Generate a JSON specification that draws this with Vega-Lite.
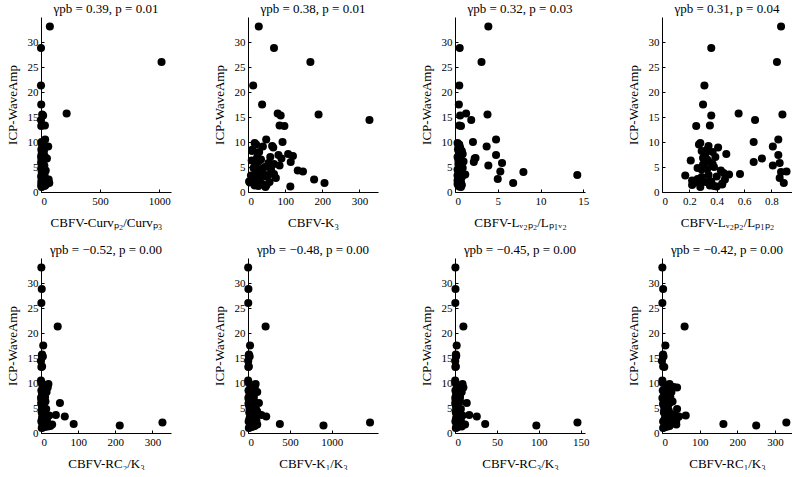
{
  "$schema": "https://vega.github.io/schema/vega-lite/v6.json",
  "padding": {"left": 6, "top": 3, "right": 0, "bottom": 0},
  "background": "white",
  "data": {"values": [
    {"icp": 33.1, "curv": 75, "k3": 29, "lvp": 3.9, "lpp": 0.87, "rc2": 1, "k1": 2, "rc3": 0.5, "rc1": 1},
    {"icp": 28.8, "curv": 0, "k3": 70, "lvp": 0.55, "lpp": 0.36, "rc2": 2, "k1": 5, "rc3": 0.6, "rc1": 3},
    {"icp": 26.0, "curv": 1020, "k3": 168, "lvp": 3.1, "lpp": 0.84, "rc2": 1, "k1": 3, "rc3": 0.4, "rc1": 1},
    {"icp": 21.3, "curv": 0, "k3": 14, "lvp": 0.5, "lpp": 0.31, "rc2": 45, "k1": 210, "rc3": 10, "rc1": 60},
    {"icp": 17.5, "curv": 2, "k3": 38, "lvp": 0.45, "lpp": 0.30, "rc2": 6, "k1": 24, "rc3": 2, "rc1": 9},
    {"icp": 15.7, "curv": 217, "k3": 80, "lvp": 1.3, "lpp": 0.56, "rc2": 3, "k1": 12, "rc3": 1, "rc1": 3},
    {"icp": 15.5, "curv": 10, "k3": 190, "lvp": 3.8, "lpp": 0.88, "rc2": 2, "k1": 8, "rc3": 1.5, "rc1": 2},
    {"icp": 15.3, "curv": 18, "k3": 88, "lvp": 0.6, "lpp": 0.36, "rc2": 5, "k1": 20, "rc3": 1.2, "rc1": 4},
    {"icp": 14.4, "curv": 0, "k3": 327, "lvp": 1.9, "lpp": 0.68, "rc2": 0, "k1": 3, "rc3": 0.3, "rc1": 0},
    {"icp": 13.3, "curv": 33, "k3": 85, "lvp": 0.5, "lpp": 0.35, "rc2": 3, "k1": 10, "rc3": 1, "rc1": 3},
    {"icp": 13.2, "curv": 2, "k3": 98, "lvp": 0.7, "lpp": 0.25, "rc2": 1, "k1": 4, "rc3": 0.5, "rc1": 6},
    {"icp": 10.5, "curv": 35, "k3": 49, "lvp": 4.8, "lpp": 0.85, "rc2": 0, "k1": 2, "rc3": 0.2, "rc1": 1},
    {"icp": 10.0, "curv": 5, "k3": 93, "lvp": 2.1, "lpp": 0.67, "rc2": 2, "k1": 10, "rc3": 0.8, "rc1": 2},
    {"icp": 9.8, "curv": 15, "k3": 18, "lvp": 0.3, "lpp": 0.28, "rc2": 20, "k1": 91, "rc3": 9, "rc1": 20},
    {"icp": 9.5, "curv": 8, "k3": 22, "lvp": 0.5, "lpp": 0.27, "rc2": 4, "k1": 30, "rc3": 2, "rc1": 10},
    {"icp": 9.2, "curv": 20, "k3": 65, "lvp": 0.4, "lpp": 0.34, "rc2": 10, "k1": 50, "rc3": 5, "rc1": 31},
    {"icp": 9.1, "curv": 61, "k3": 40, "lvp": 3.7, "lpp": 0.81, "rc2": 18, "k1": 80, "rc3": 10, "rc1": 40},
    {"icp": 8.9, "curv": 12, "k3": 68, "lvp": 0.6, "lpp": 0.41, "rc2": 8, "k1": 40, "rc3": 4, "rc1": 15},
    {"icp": 8.5, "curv": 3, "k3": 12, "lvp": 0.35, "lpp": 0.33, "rc2": 1, "k1": 6, "rc3": 0.5, "rc1": 2},
    {"icp": 8.2, "curv": 25, "k3": 11, "lvp": 0.8, "lpp": 0.29, "rc2": 15, "k1": 110, "rc3": 8, "rc1": 25},
    {"icp": 8.0, "curv": 7, "k3": 30, "lvp": 0.45, "lpp": 0.37, "rc2": 3, "k1": 20, "rc3": 2, "rc1": 8},
    {"icp": 7.6, "curv": 18, "k3": 108, "lvp": 0.9, "lpp": 0.47, "rc2": 6, "k1": 45, "rc3": 3, "rc1": 12},
    {"icp": 7.4, "curv": 4, "k3": 82, "lvp": 4.8, "lpp": 0.85, "rc2": 2, "k1": 15, "rc3": 1, "rc1": 5},
    {"icp": 7.2, "curv": 30, "k3": 121, "lvp": 0.5, "lpp": 0.31, "rc2": 11, "k1": 70, "rc3": 6, "rc1": 22},
    {"icp": 7.0, "curv": 1, "k3": 60, "lvp": 0.3, "lpp": 0.39, "rc2": 0, "k1": 4, "rc3": 0.3, "rc1": 1},
    {"icp": 6.8, "curv": 14, "k3": 24, "lvp": 2.4, "lpp": 0.30, "rc2": 5, "k1": 35, "rc3": 2.5, "rc1": 14},
    {"icp": 6.7, "curv": 50, "k3": 90, "lvp": 2.3, "lpp": 0.73, "rc2": 9, "k1": 60, "rc3": 5, "rc1": 18},
    {"icp": 6.5, "curv": 6, "k3": 35, "lvp": 0.7, "lpp": 0.33, "rc2": 2, "k1": 12, "rc3": 1, "rc1": 5},
    {"icp": 6.3, "curv": 22, "k3": 10, "lvp": 0.4, "lpp": 0.21, "rc2": 12, "k1": 75, "rc3": 6, "rc1": 28},
    {"icp": 6.0, "curv": 9, "k3": 115, "lvp": 2.2, "lpp": 0.67, "rc2": 51, "k1": 130, "rc3": 14, "rc1": 20},
    {"icp": 5.8, "curv": 2, "k3": 55, "lvp": 5.5, "lpp": 0.86, "rc2": 1, "k1": 6, "rc3": 0.5, "rc1": 3},
    {"icp": 5.5, "curv": 16, "k3": 20, "lvp": 0.6, "lpp": 0.30, "rc2": 7, "k1": 50, "rc3": 3, "rc1": 16},
    {"icp": 5.3, "curv": 28, "k3": 85, "lvp": 3.9, "lpp": 0.81, "rc2": 4, "k1": 25, "rc3": 2, "rc1": 9},
    {"icp": 5.0, "curv": 11, "k3": 45, "lvp": 0.5, "lpp": 0.38, "rc2": 3, "k1": 18, "rc3": 1.5, "rc1": 7},
    {"icp": 4.8, "curv": 3, "k3": 15, "lvp": 0.9, "lpp": 0.26, "rc2": 14, "k1": 95, "rc3": 7, "rc1": 40},
    {"icp": 4.5, "curv": 20, "k3": 62, "lvp": 0.3, "lpp": 0.29, "rc2": 8, "k1": 55, "rc3": 4, "rc1": 18},
    {"icp": 4.3, "curv": 40, "k3": 134, "lvp": 0.7, "lpp": 0.43, "rc2": 5, "k1": 110, "rc3": 3, "rc1": 12},
    {"icp": 4.1, "curv": 6, "k3": 148, "lvp": 5.3, "lpp": 0.91, "rc2": 2, "k1": 15, "rc3": 1, "rc1": 5},
    {"icp": 4.0, "curv": 12, "k3": 28, "lvp": 8.0, "lpp": 0.87, "rc2": 6, "k1": 40, "rc3": 3, "rc1": 14},
    {"icp": 3.8, "curv": 25, "k3": 40, "lvp": 0.4, "lpp": 0.45, "rc2": 10, "k1": 70, "rc3": 5, "rc1": 25},
    {"icp": 3.6, "curv": 30, "k3": 70, "lvp": 0.6, "lpp": 0.57, "rc2": 40, "k1": 160, "rc3": 17, "rc1": 35},
    {"icp": 3.5, "curv": 8, "k3": 18, "lvp": 1.2, "lpp": 0.49, "rc2": 22, "k1": 90, "rc3": 9, "rc1": 63},
    {"icp": 3.4, "curv": 15, "k3": 55, "lvp": 14.3, "lpp": 0.34, "rc2": 4, "k1": 30, "rc3": 2, "rc1": 10},
    {"icp": 3.3, "curv": 4, "k3": 8, "lvp": 0.3, "lpp": 0.17, "rc2": 64, "k1": 217, "rc3": 26, "rc1": 45},
    {"icp": 3.1, "curv": 18, "k3": 48, "lvp": 0.5, "lpp": 0.40, "rc2": 12, "k1": 80, "rc3": 6, "rc1": 30},
    {"icp": 3.0, "curv": 2, "k3": 25, "lvp": 0.8, "lpp": 0.29, "rc2": 3, "k1": 20, "rc3": 1.5, "rc1": 8},
    {"icp": 2.8, "curv": 35, "k3": 75, "lvp": 0.4, "lpp": 0.86, "rc2": 7, "k1": 45, "rc3": 3, "rc1": 15},
    {"icp": 2.6, "curv": 10, "k3": 32, "lvp": 5.0, "lpp": 0.26, "rc2": 2, "k1": 15, "rc3": 1, "rc1": 6},
    {"icp": 2.5, "curv": 65, "k3": 178, "lvp": 0.6, "lpp": 0.46, "rc2": 16, "k1": 100, "rc3": 7, "rc1": 38},
    {"icp": 2.3, "curv": 5, "k3": 12, "lvp": 0.3, "lpp": 0.22, "rc2": 1, "k1": 8, "rc3": 0.5, "rc1": 3},
    {"icp": 2.1, "curv": 20, "k3": 3, "lvp": 0.5, "lpp": 0.36, "rc2": 327, "k1": 1455, "rc3": 146, "rc1": 330},
    {"icp": 2.0, "curv": 12, "k3": 58, "lvp": 0.7, "lpp": 0.32, "rc2": 9, "k1": 60, "rc3": 4, "rc1": 20},
    {"icp": 1.9, "curv": 3, "k3": 5, "lvp": 0.4, "lpp": 0.24, "rc2": 6, "k1": 40, "rc3": 3, "rc1": 12},
    {"icp": 1.8, "curv": 70, "k3": 206, "lvp": 6.8, "lpp": 0.89, "rc2": 88, "k1": 380, "rc3": 36, "rc1": 163},
    {"icp": 1.7, "curv": 25, "k3": 20, "lvp": 0.6, "lpp": 0.44, "rc2": 30, "k1": 110, "rc3": 12, "rc1": 38},
    {"icp": 1.6, "curv": 8, "k3": 38, "lvp": 0.3, "lpp": 0.28, "rc2": 4, "k1": 30, "rc3": 2, "rc1": 10},
    {"icp": 1.5, "curv": 15, "k3": 22, "lvp": 0.5, "lpp": 0.44, "rc2": 212, "k1": 900, "rc3": 97, "rc1": 250},
    {"icp": 1.4, "curv": 40, "k3": 50, "lvp": 0.8, "lpp": 0.22, "rc2": 25, "k1": 80, "rc3": 5, "rc1": 20},
    {"icp": 1.3, "curv": 2, "k3": 18, "lvp": 0.4, "lpp": 0.35, "rc2": 18, "k1": 60, "rc3": 8, "rc1": 15},
    {"icp": 1.2, "curv": 30, "k3": 28, "lvp": 0.6, "lpp": 0.38, "rc2": 10, "k1": 40, "rc3": 3, "rc1": 9},
    {"icp": 1.1, "curv": 10, "k3": 114, "lvp": 0.5, "lpp": 0.40, "rc2": 5, "k1": 20, "rc3": 2, "rc1": 5},
    {"icp": 1.0, "curv": 5, "k3": 47, "lvp": 0.7, "lpp": 0.28, "rc2": 2, "k1": 10, "rc3": 1, "rc1": 3},
    {"icp": 4.6, "curv": 8, "k3": 34, "lvp": 0.5, "lpp": 0.33, "rc2": 3, "k1": 25, "rc3": 1.5, "rc1": 6},
    {"icp": 6.1, "curv": 4, "k3": 28, "lvp": 1.0, "lpp": 0.34, "rc2": 1, "k1": 10, "rc3": 0.5, "rc1": 4},
    {"icp": 7.8, "curv": 10, "k3": 26, "lvp": 0.5, "lpp": 0.32, "rc2": 4, "k1": 25, "rc3": 2, "rc1": 8},
    {"icp": 5.6, "curv": 6, "k3": 70, "lvp": 0.4, "lpp": 0.37, "rc2": 2, "k1": 15, "rc3": 1, "rc1": 4}
  ]},
  "columns": 4,
  "bounds": "flush",
  "spacing": {"row": 66, "column": 77},
  "config": {
    "view": {"stroke": null},
    "font": "Liberation Serif",
    "axis": {
      "grid": false,
      "domainColor": "#000",
      "domainWidth": 1,
      "tickColor": "#000",
      "tickSize": -3,
      "labelColor": "#000",
      "titleColor": "#000",
      "labelFont": "Liberation Serif",
      "titleFont": "Liberation Serif",
      "labelFontSize": 11,
      "titleFontSize": 13,
      "titleFontWeight": "normal",
      "labelPadding": 6,
      "labelExpr": "'' + datum.value"
    },
    "axisX": {"titlePadding": 10},
    "axisY": {"titlePadding": 8},
    "title": {"font": "Liberation Serif", "fontSize": 13, "fontWeight": "normal", "color": "#000", "offset": 1},
    "circle": {"size": 65, "color": "#000", "opacity": 1}
  },
  "concat": [
    {"width": 130, "height": 175, "title": "γpb = 0.39, p = 0.01", "mark": "circle",
     "encoding": {
       "x": {"field": "curv", "type": "quantitative", "scale": {"domain": [0, 1100], "nice": false}, "axis": {"values": [0, 500, 1000], "title": "CBFV-Curvₚ₂/Curvₚ₃"}},
       "y": {"field": "icp", "type": "quantitative", "scale": {"domain": [0, 35], "nice": false}, "axis": {"values": [0, 5, 10, 15, 20, 25, 30], "title": "ICP-WaveAmp"}}}},
    {"width": 130, "height": 175, "title": "γpb = 0.38, p = 0.01", "mark": "circle",
     "encoding": {
       "x": {"field": "k3", "type": "quantitative", "scale": {"domain": [0, 350], "nice": false}, "axis": {"values": [0, 100, 200, 300], "title": "CBFV-K₃"}},
       "y": {"field": "icp", "type": "quantitative", "scale": {"domain": [0, 35], "nice": false}, "axis": {"values": [0, 5, 10, 15, 20, 25, 30], "title": "ICP-WaveAmp"}}}},
    {"width": 130, "height": 175, "title": "γpb = 0.32, p = 0.03", "mark": "circle",
     "encoding": {
       "x": {"field": "lvp", "type": "quantitative", "scale": {"domain": [0, 15.2], "nice": false}, "axis": {"values": [0, 5, 10, 15], "title": "CBFV-Lᵥ₂ₚ₂/Lₚ₁ᵥ₂"}},
       "y": {"field": "icp", "type": "quantitative", "scale": {"domain": [0, 35], "nice": false}, "axis": {"values": [0, 5, 10, 15, 20, 25, 30], "title": "ICP-WaveAmp"}}}},
    {"width": 130, "height": 175, "title": "γpb = 0.31, p = 0.04", "mark": "circle",
     "encoding": {
       "x": {"field": "lpp", "type": "quantitative", "scale": {"domain": [0, 0.95], "nice": false}, "axis": {"values": [0, 0.2, 0.4, 0.6, 0.8], "title": "CBFV-Lᵥ₂ₚ₂/Lₚ₁ₚ₂"}},
       "y": {"field": "icp", "type": "quantitative", "scale": {"domain": [0, 35], "nice": false}, "axis": {"values": [0, 5, 10, 15, 20, 25, 30], "title": "ICP-WaveAmp"}}}},
    {"width": 130, "height": 175, "title": "γpb = −0.52, p = 0.00", "mark": "circle",
     "encoding": {
       "x": {"field": "rc2", "type": "quantitative", "scale": {"domain": [0, 350], "nice": false}, "axis": {"values": [0, 100, 200, 300], "title": "CBFV-RC₂/K₃"}},
       "y": {"field": "icp", "type": "quantitative", "scale": {"domain": [0, 35], "nice": false}, "axis": {"values": [0, 5, 10, 15, 20, 25, 30], "title": "ICP-WaveAmp"}}}},
    {"width": 130, "height": 175, "title": "γpb = −0.48, p = 0.00", "mark": "circle",
     "encoding": {
       "x": {"field": "k1", "type": "quantitative", "scale": {"domain": [0, 1550], "nice": false}, "axis": {"values": [0, 500, 1000], "title": "CBFV-K₁/K₃"}},
       "y": {"field": "icp", "type": "quantitative", "scale": {"domain": [0, 35], "nice": false}, "axis": {"values": [0, 5, 10, 15, 20, 25, 30], "title": "ICP-WaveAmp"}}}},
    {"width": 130, "height": 175, "title": "γpb = −0.45, p = 0.00", "mark": "circle",
     "encoding": {
       "x": {"field": "rc3", "type": "quantitative", "scale": {"domain": [0, 155], "nice": false}, "axis": {"values": [0, 50, 100, 150], "title": "CBFV-RC₃/K₃"}},
       "y": {"field": "icp", "type": "quantitative", "scale": {"domain": [0, 35], "nice": false}, "axis": {"values": [0, 5, 10, 15, 20, 25, 30], "title": "ICP-WaveAmp"}}}},
    {"width": 130, "height": 175, "title": "γpb = −0.42, p = 0.00", "mark": "circle",
     "encoding": {
       "x": {"field": "rc1", "type": "quantitative", "scale": {"domain": [0, 345], "nice": false}, "axis": {"values": [0, 100, 200, 300], "title": "CBFV-RC₁/K₃"}},
       "y": {"field": "icp", "type": "quantitative", "scale": {"domain": [0, 35], "nice": false}, "axis": {"values": [0, 5, 10, 15, 20, 25, 30], "title": "ICP-WaveAmp"}}}}
  ]
}
